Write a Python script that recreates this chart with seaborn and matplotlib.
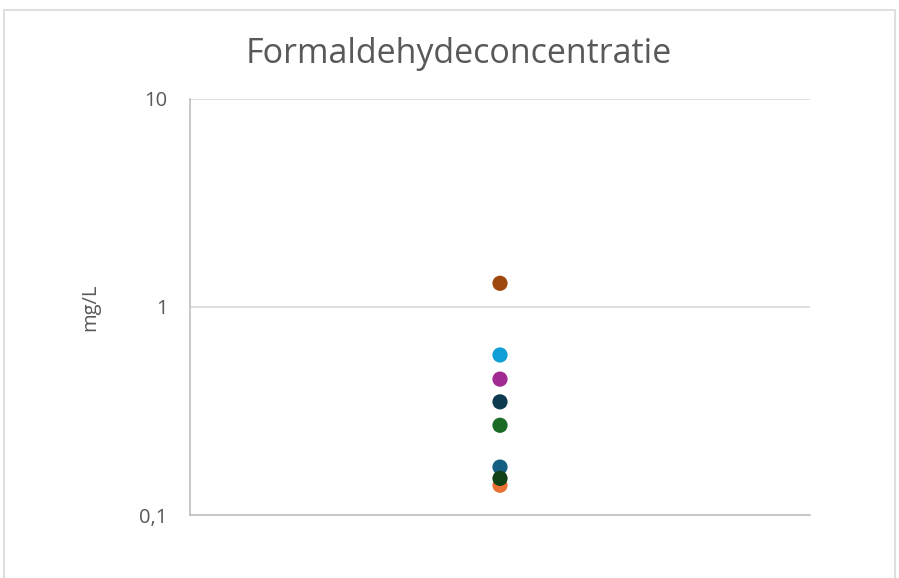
import matplotlib
matplotlib.use('Agg')
import matplotlib.pyplot as plt
import matplotlib.ticker as mticker
from matplotlib.patches import FancyBboxPatch
import pandas as pd
import seaborn as sns

# Series in drawing order (last drawn is on top)
SERIES = ['Meting 1', 'Meting 2', 'Meting 3', 'Meting 4', 'Meting 5',
          'Meting 6', 'Meting 7', 'Meting 8']
VALUES = [0.17, 0.139, 0.27, 0.588, 0.45, 0.35, 1.30, 0.15]
COLORS = ['#156082', '#E97132', '#196B24', '#0F9ED5', '#A02B93',
          '#0D3A4F', '#9E480E', '#0F4016']
TITLE = 'Formaldehydeconcentratie'
YLABEL = 'mg/L'
YTICKS = [0.1, 1, 10]
YTICK_LABELS = ['0,1', '1', '10']

GREY = '#595959'

sns.set_theme(style='white')
plt.rcParams['font.family'] = ['Open Sans', 'DejaVu Sans']

df = pd.DataFrame({'x': [0] * len(SERIES), 'value': VALUES, 'series': SERIES})

fig = plt.figure(figsize=(8.99, 5.78), dpi=100)
ax = fig.add_axes([190 / 899, 1 - 515 / 578, 620 / 899, 416 / 578])

# light outer chart border like the spreadsheet frame
fig.patches.append(FancyBboxPatch((4 / 899, -0.05), 891 / 899, 1 - 10 / 578 + 0.05,
                                  boxstyle='square,pad=0', transform=fig.transFigure,
                                  fill=False, edgecolor='#D9D9D9', linewidth=1.2))

sns.scatterplot(data=df, x='x', y='value', hue='series', hue_order=SERIES,
                palette=dict(zip(SERIES, COLORS)), s=120, linewidth=0,
                legend=False, ax=ax, zorder=3)

ax.set_yscale('log')
ax.set_ylim(0.1, 10)
ax.set_xlim(-1, 1)
ax.yaxis.set_major_locator(mticker.FixedLocator(YTICKS))
ax.yaxis.set_major_formatter(mticker.FixedFormatter(YTICK_LABELS))
ax.yaxis.set_minor_locator(mticker.NullLocator())
ax.set_xticks([])
ax.grid(axis='y', color='#D9D9D9', linewidth=1.2)
ax.set_axisbelow(True)

for side in ['top', 'right']:
    ax.spines[side].set_visible(False)
for side in ['left', 'bottom']:
    ax.spines[side].set_color('#BFBFBF')
    ax.spines[side].set_linewidth(1.2)

ax.tick_params(axis='y', length=0, pad=16, labelsize=14.5, labelcolor=GREY)
ax.set_xlabel('')
ax.set_ylabel(YLABEL, fontsize=14.5, color=GREY)
ax.yaxis.set_label_coords(-0.145, 0.5)
fig.text(459 / 899, 1 - 54 / 578, TITLE, ha='center', va='center',
         fontsize=24.5, color=GREY)

fig.savefig('out.png', dpi=100, facecolor='white')
